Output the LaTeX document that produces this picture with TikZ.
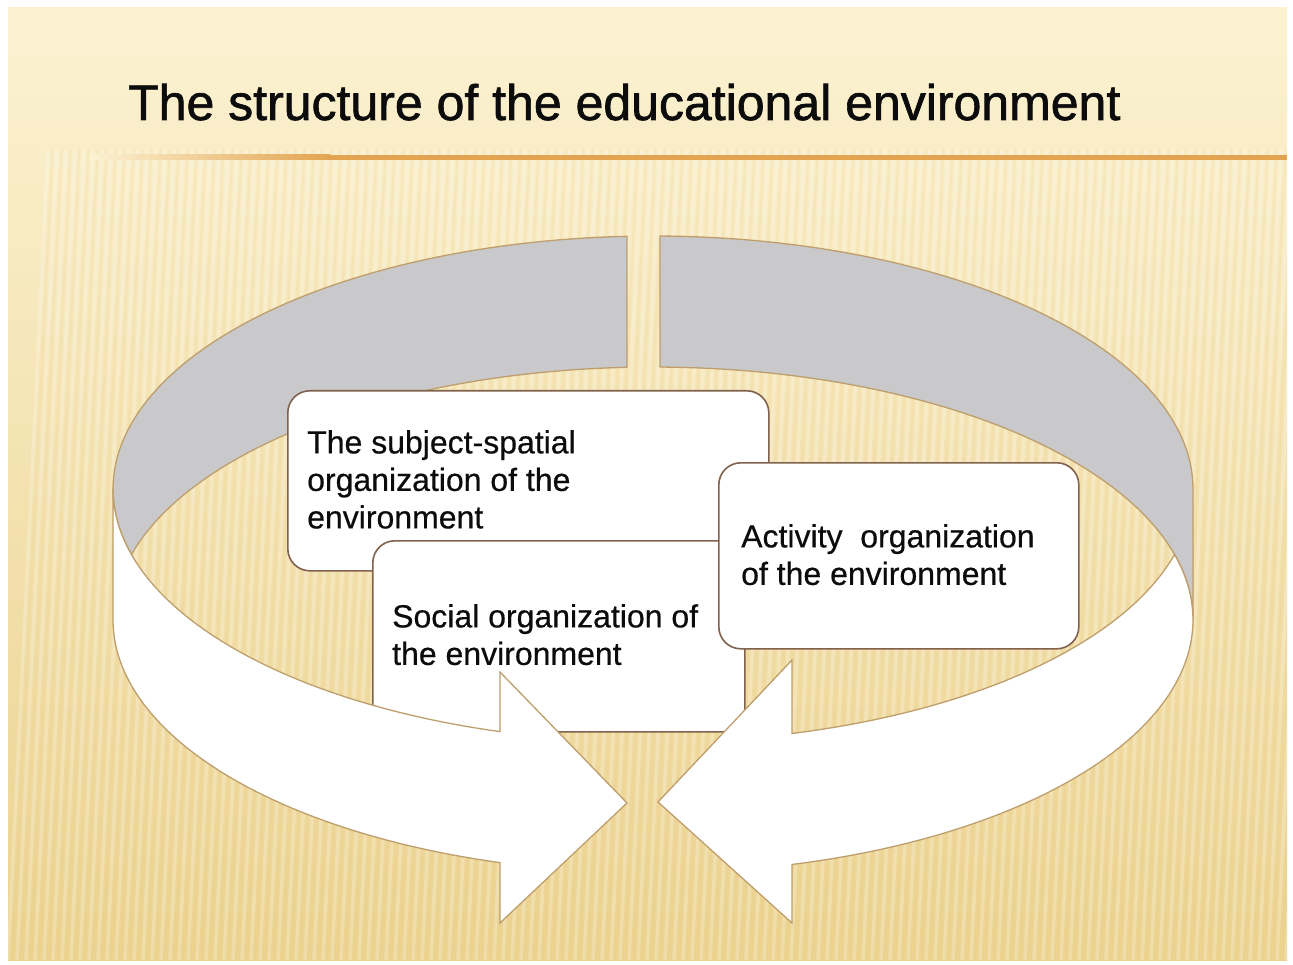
\documentclass[tikz,border=0pt]{standalone}
\usepackage{fontspec}
\setmainfont{Liberation Sans}
\newfontfamily\headingfont[FakeBold=1.3]{Liberation Sans}
\newfontfamily\labelfont[FakeBold=0.5]{Liberation Sans}
\definecolor{bgtop}{RGB}{252,242,210}
\definecolor{bgmid}{RGB}{246,226,168}
\definecolor{bgbot}{RGB}{235,210,142}
\definecolor{ruleorange}{RGB}{226,164,80}
\definecolor{ringgray}{RGB}{201,201,203}
\definecolor{ringedge}{RGB}{190,158,108}
\definecolor{boxedge}{RGB}{128,98,78}
\definecolor{inkblack}{RGB}{12,12,12}
\begin{document}
\begin{tikzpicture}[x=1pt,y=-1pt,
  graypart/.style={fill=ringgray, draw=ringedge, line width=1.3pt, line join=round},
  whitepart/.style={fill=white, draw=ringedge, line width=1.3pt, line join=miter},
  box/.style={draw=boxedge, line width=1.6pt, fill=white, rounded corners=22pt,
    inner sep=0pt, anchor=north west},
  boxtext/.style={anchor=north west, inner sep=0pt, align=left, text=inkblack,
    font=\labelfont\fontsize{32}{37.5}\selectfont}]
\useasboundingbox (0,0) rectangle (1293,965);

% slide background
\fill[white] (0,0) rectangle (1293,965);
\shade[top color=bgtop, middle color=bgmid, bottom color=bgbot] (8,8) rectangle (1287,960);
\begin{scope}
  \clip (8,150) rectangle (1287,960);
  \foreach \i in {0,...,150}
    \draw[white, opacity=0.24, line width=3.5pt] ({8+9*\i},960) -- ({48+9*\i},150);
  \foreach \i in {0,...,150}
    \draw[bgbot, opacity=0.18, line width=2pt] ({12.5+9*\i},960) -- ({52.5+9*\i},150);
\end{scope}
\begin{scope}
  \clip (8,60) rectangle (1287,150);
  \foreach \i in {0,...,150}
    \draw[white, opacity=0.12, line width=3.5pt] ({8+9*\i},960) -- ({48+9*\i},150);
\end{scope}

% title and rule
\node[anchor=base west, inner sep=0pt, text=inkblack, font=\headingfont\fontsize{50}{60}\selectfont]
  (title) at (128,120) {The structure of the educational environment};
\shade[left color=bgtop, right color=ruleorange] (90,155) rectangle (330,160);
\fill[ruleorange] (330,155) rectangle (1287,160);

% inner (back) faces of the two ring arrows
\path[graypart]
  plot[domain=267.24:165, samples=70] ({653+540*cos(\x)},{489+253*sin(\x)})
  -- plot[domain=195:267.24, samples=50] ({653+540*cos(\x)},{620+253*sin(\x)})
  -- cycle;
\path[graypart]
  plot[domain=270.74:360, samples=70] ({653+540*cos(\x)},{489+253*sin(\x)})
  -- plot[domain=360:270.74, samples=70] ({653+540*cos(\x)},{620+253*sin(\x)})
  -- cycle;

% the three boxes
\node[box, minimum width=481pt, minimum height=180pt] (subjbox) at (287,390) {};
\node[box, minimum width=372pt, minimum height=191pt] (socbox) at (372,540) {};
\node[box, minimum width=360pt, minimum height=186pt] (actbox) at (718,462) {};
\node[boxtext] (subjtext) at (307,430) {The subject-spatial\\organization of the\\environment};
\node[boxtext] (soctext) at (392,604) {Social organization of\\the environment};
\node[boxtext] (acttext) at (741,524) {Activity\ \ organization\\of the environment};

% outer (front) faces with arrowheads
\path[whitepart]
  plot[domain=106.46:180, samples=70] ({653+540*cos(\x)},{489+253*sin(\x)})
  -- plot[domain=180:106.46, samples=70] ({653+540*cos(\x)},{620+253*sin(\x)})
  -- (500,923) -- (627,803) -- (500,672) -- cycle;
\path[whitepart]
  plot[domain=75.08:15, samples=70] ({653+540*cos(\x)},{489+253*sin(\x)})
  -- plot[domain=-15:75.08, samples=80] ({653+540*cos(\x)},{620+253*sin(\x)})
  -- (792,923) -- (658,802) -- (792,660) -- cycle;
\end{tikzpicture}
\end{document}
